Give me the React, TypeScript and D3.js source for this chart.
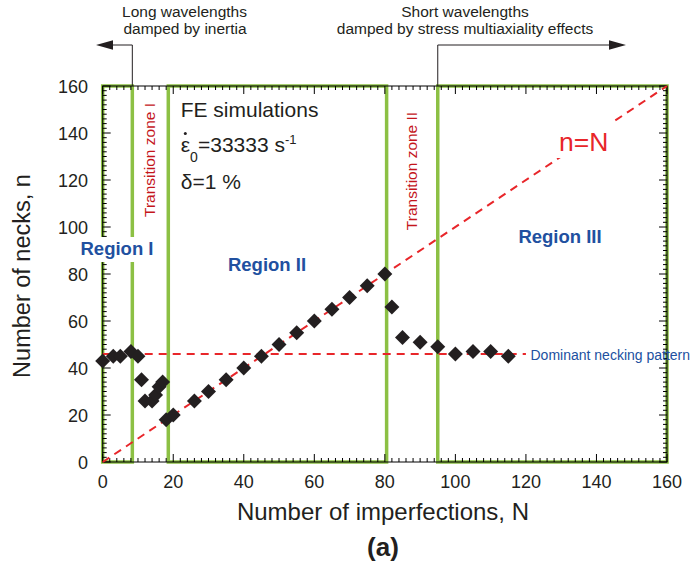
import React from "react";
import * as d3 from "d3";

// FE simulation results: number of necks n vs number of imperfections N
const imperfections = [0, 3, 5, 8, 10, 11, 12, 14, 15, 16, 17, 18, 20, 26, 30, 35, 40, 45, 50, 55, 60, 65, 70, 75, 80, 82, 85, 90, 95, 100, 105, 110, 115];
const necks = [43, 45, 45, 47, 45, 35, 26, 26, 28.5, 32, 34, 18, 20, 26, 30, 35, 40, 45, 50, 55, 60, 65, 70, 75, 80, 66, 53, 51, 49, 46, 47, 47, 45];

const xTicks = [0, 20, 40, 60, 80, 100, 120, 140, 160];
const yTicks = [0, 20, 40, 60, 80, 100, 120, 140, 160];

// Region boxes (N ranges)
const regionI = [0, 8.4];
const regionII = [18.6, 80.5];
const regionIII = [95, 160];

// Dominant necking pattern level and its N extent
const dominantLevel = 46;
const dominantExtent = [0, 120];

const W = 691;
const H = 566;
const FONT = "'Liberation Sans', Arial, Helvetica, sans-serif";
const GREEN = "#8cc044";
const RED = "#e8262a";
const DARKRED = "#c4161c";
const BLUE = "#2150a0";
const INK = "#231f20";

export default function App() {
  const x = d3.scaleLinear().domain([0, 160]).range([102.7, 667]);
  const y = d3.scaleLinear().domain([0, 160]).range([462, 86]);

  const x0 = x(0), x1 = x(160), y0 = y(0), y1 = y(160);

  const minor = d3.range(0, 161, 2).filter((v) => v % 20 !== 0);

  const diamond = d3.symbol().type(d3.symbolSquare).size(112)();

  const box = (r: number[], key: string) => (
    <rect
      key={key}
      x={x(r[0])}
      y={y1}
      width={x(r[1]) - x(r[0])}
      height={y0 - y1}
      fill="none"
      stroke={GREEN}
      strokeWidth={3.5}
    />
  );

  const arrowY = 45;
  const leftX = x(regionI[1]);
  const rightX = x(regionIII[0]);

  return (
    <div style={{ position: "absolute", left: 0, top: 0 }}>
      <svg width={W} height={H} style={{ display: "block", background: "#fff" }} fontFamily={FONT}>
        {/* region boxes */}
        {box(regionI, "r1")}
        {box(regionII, "r2")}
        {box(regionIII, "r3")}

        {/* frame */}
        <rect x={x0} y={y1} width={x1 - x0} height={y0 - y1} fill="none" stroke="#000" strokeWidth={1} />

        {/* inward ticks on all four sides */}
        <g stroke="#000" strokeWidth={1}>
          {xTicks.map((t) => (
            <g key={"xt" + t}>
              <line x1={x(t)} x2={x(t)} y1={y0} y2={y0 - 8} />
              <line x1={x(t)} x2={x(t)} y1={y1} y2={y1 + 8} />
            </g>
          ))}
          {minor.map((t) => (
            <g key={"xm" + t}>
              <line x1={x(t)} x2={x(t)} y1={y0} y2={y0 - 4} />
              <line x1={x(t)} x2={x(t)} y1={y1} y2={y1 + 4} />
            </g>
          ))}
          {yTicks.map((t) => (
            <g key={"yt" + t}>
              <line x1={x0} x2={x0 + 8} y1={y(t)} y2={y(t)} />
              <line x1={x1} x2={x1 - 8} y1={y(t)} y2={y(t)} />
            </g>
          ))}
          {minor.map((t) => (
            <g key={"ym" + t}>
              <line x1={x0} x2={x0 + 4} y1={y(t)} y2={y(t)} />
              <line x1={x1} x2={x1 - 4} y1={y(t)} y2={y(t)} />
            </g>
          ))}
        </g>

        {/* tick labels */}
        <g fontSize={18} fill={INK}>
          {xTicks.map((t) => (
            <text key={"xl" + t} x={x(t)} y={488} textAnchor="middle">
              {t}
            </text>
          ))}
          {yTicks.map((t) => (
            <text key={"yl" + t} x={88} y={y(t) + 6.5} textAnchor="end">
              {t}
            </text>
          ))}
        </g>

        {/* axis titles */}
        <text x={383} y={520} textAnchor="middle" fontSize={24} fill={INK}>
          Number of imperfections, N
        </text>
        <text transform={`translate(30,276) rotate(-90)`} textAnchor="middle" fontSize={23.5} fill={INK}>
          Number of necks, n
        </text>
        <text x={383} y={556} textAnchor="middle" fontSize={26} fontWeight="bold" fill={INK}>
          (a)
        </text>

        {/* reference lines */}
        <line
          x1={x(dominantExtent[0])}
          x2={x(dominantExtent[1])}
          y1={y(dominantLevel)}
          y2={y(dominantLevel)}
          stroke={RED}
          strokeWidth={2}
          strokeDasharray="8,6"
        />
        <line x1={x(0)} y1={y(0)} x2={x(160)} y2={y(160)} stroke={RED} strokeWidth={2} strokeDasharray="8,6" />

        {/* n = N label over a white patch */}
        <rect x={556} y={122} width={58} height={36} fill="#fff" />
        <text x={559} y={151} fontSize={26.5} fill={RED}>
          n=N
        </text>

        {/* data */}
        <g fill={INK}>
          {imperfections.map((n, i) => (
            <path key={"p" + i} d={diamond!} transform={`translate(${x(n)},${y(necks[i])}) rotate(45)`} />
          ))}
        </g>

        {/* region labels */}
        <rect x={80} y={237} width={76} height={25} fill="#fff" />
        <text x={117} y={255} textAnchor="middle" fontSize={18.5} fontWeight="bold" fill={BLUE}>
          Region I
        </text>
        <text x={267} y={271} textAnchor="middle" fontSize={18.5} fontWeight="bold" fill={BLUE}>
          Region II
        </text>
        <text x={560} y={243} textAnchor="middle" fontSize={18.5} fontWeight="bold" fill={BLUE}>
          Region III
        </text>

        {/* transition zones */}
        <text transform={`translate(155,160) rotate(-90)`} textAnchor="middle" fontSize={15.5} fill={DARKRED}>
          Transition zone I
        </text>
        <text transform={`translate(417,171) rotate(-90)`} textAnchor="middle" fontSize={15.5} fill={DARKRED}>
          Transition zone II
        </text>

        {/* simulation parameters */}
        <g fill={INK} fontSize={21}>
          <text x={180.7} y={117}>FE simulations</text>
          <text x={180.7} y={151.7}>ε</text>
          <circle cx={185.3} cy={133.5} r={1.5} />
          <text x={190} y={162} fontSize={14}>0</text>
          <text x={198} y={151.7}>
            =33333 s
            <tspan fontSize={13} dy={-8}>-1</tspan>
          </text>
          <text x={180.7} y={189}>δ=1 %</text>
        </g>

        <text x={530.5} y={359.5} fontSize={14} fill={BLUE}>
          Dominant necking pattern
        </text>

        {/* wavelength annotations */}
        <g stroke={INK} strokeWidth={1} fill="none">
          <polyline points={`${leftX},${y1} ${leftX},${arrowY} ${112},${arrowY}`} />
          <polyline points={`${rightX},${y1} ${rightX},${arrowY} ${610},${arrowY}`} />
        </g>
        <g fill={INK}>
          <polygon points={`96,${arrowY} 113,${arrowY - 4.8} 113,${arrowY + 4.8}`} />
          <polygon points={`626,${arrowY} 609,${arrowY - 4.8} 609,${arrowY + 4.8}`} />
        </g>
        <g fontSize={15.5} fill={INK} textAnchor="middle">
          <text x={184.5} y={17.3}>Long wavelengths</text>
          <text x={185} y={33.5}>damped by inertia</text>
          <text x={465} y={17.3}>Short wavelengths</text>
          <text x={465} y={33.5}>damped by stress multiaxiality effects</text>
        </g>
      </svg>
    </div>
  );
}
